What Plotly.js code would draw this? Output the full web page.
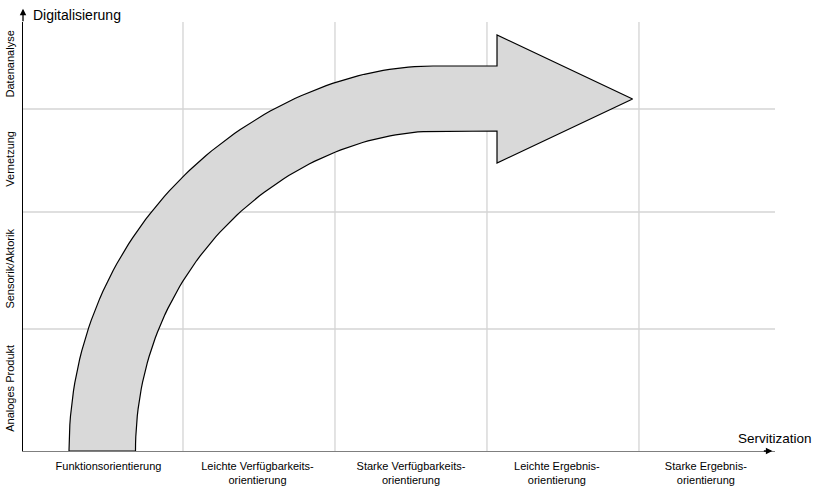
<!DOCTYPE html>
<html>
<head>
<meta charset="utf-8">
<script src="https://cdn.plot.ly/plotly-3.0.1.min.js"></script>
<style>
  html, body { margin: 0; padding: 0; background: #fff; }
  #chart { width: 822px; height: 488px; }
</style>
</head>
<body>
<div id="chart"></div>
<script>
// ---- Data ----
const columns = [
  "Funktionsorientierung",
  "Leichte Verfügbarkeits-<br>orientierung",
  "Starke Verfügbarkeits-<br>orientierung",
  "Leichte Ergebnis-<br>orientierung",
  "Starke Ergebnis-<br>orientierung"
];
const columnCenters = [0.51, 1.49, 2.5, 3.46, 4.44];
const columnBounds = [1, 2, 3, 4];

const levels = ["Analoges Produkt", "Sensorik/Aktorik", "Vernetzung", "Datenanalyse"];
const levelBounds = [0, 122, 239, 342, 429];

// Curved arrow geometry (cubic Bezier control points, in axis units)
const outerCurve = [[0.25, 0], [0.25, 236], [1.572, 385], [2.645, 385]];
const innerCurve = [[0.6875, 0], [0.6875, 191], [1.72, 320], [2.691, 320]];
const headBackX = 3.066;
const headTop = 416;
const headBottom = 288;
const headTip = [3.958, 352];

// ---- Build arrow outline ----
function bez(p, t) {
  const u = 1 - t;
  const a = u*u*u, b = 3*u*u*t, c = 3*u*t*t, d = t*t*t;
  return [a*p[0][0] + b*p[1][0] + c*p[2][0] + d*p[3][0],
          a*p[0][1] + b*p[1][1] + c*p[2][1] + d*p[3][1]];
}
const ax = [], ay = [];
const N = 80;
for (let i = 0; i <= N; i++) { const q = bez(outerCurve, i / N); ax.push(q[0]); ay.push(q[1]); }
ax.push(headBackX); ay.push(outerCurve[3][1]);
ax.push(headBackX); ay.push(headTop);
ax.push(headTip[0]); ay.push(headTip[1]);
ax.push(headBackX); ay.push(headBottom);
ax.push(headBackX); ay.push(innerCurve[3][1]);
for (let i = N; i >= 0; i--) { const q = bez(innerCurve, i / N); ax.push(q[0]); ay.push(q[1]); }
ax.push(ax[0]); ay.push(ay[0]);

const FONT = '"Liberation Sans", Arial, sans-serif';

const traces = [{
  type: 'scatter', mode: 'lines', x: ax, y: ay,
  fill: 'toself', fillcolor: '#d9d9d9',
  line: { color: '#000000', width: 1.2 },
  hoverinfo: 'skip', showlegend: false
}];

const xMin = -0.0526, xMax = 4.895;
const shapes = [];
columnBounds.forEach(v => shapes.push({
  type: 'line', xref: 'x', yref: 'y', x0: v, x1: v, y0: 0, y1: levelBounds[levelBounds.length - 1],
  line: { color: '#d4d4d4', width: 1.3 }, layer: 'below'
}));
levelBounds.slice(1, -1).forEach(v => shapes.push({
  type: 'line', xref: 'x', yref: 'y', x0: xMin, x1: xMax, y0: v, y1: v,
  line: { color: '#d4d4d4', width: 1.3 }, layer: 'below'
}));

const levelCenters = levels.map((_, i) => (levelBounds[i] + levelBounds[i + 1]) / 2);

const layout = {
  width: 822, height: 488,
  margin: { l: 23, r: 47, t: 22, b: 37 },
  paper_bgcolor: '#ffffff', plot_bgcolor: '#ffffff',
  showlegend: false,
  font: { family: FONT, size: 11, color: '#000000' },
  xaxis: {
    range: [xMin, xMax], showgrid: false, zeroline: false,
    showline: true, linecolor: '#7f7f7f', linewidth: 1.3,
    tickmode: 'array', tickvals: columnCenters, ticktext: columns,
    ticks: '', tickfont: { family: FONT, size: 11, color: '#000' },
    ticklabelstandoff: 4, fixedrange: true
  },
  yaxis: {
    range: [0, levelBounds[levelBounds.length - 1]], showgrid: false, zeroline: false,
    showline: true, linecolor: '#000000', linewidth: 1.3,
    tickmode: 'array', tickvals: levelCenters, ticktext: levels,
    tickangle: -90, ticks: '', tickfont: { family: FONT, size: 11, color: '#000' },
    ticklabelstandoff: 3, fixedrange: true
  },
  shapes: shapes,
  annotations: [
    { xref: 'paper', yref: 'paper', x: 0, y: 1.031, ax: 0, ay: 14, axref: 'pixel', ayref: 'pixel',
      showarrow: true, arrowhead: 2, arrowsize: 1, arrowwidth: 1.3, arrowcolor: '#000', text: '' },
    { xref: 'paper', yref: 'paper', x: 0.9965, y: 0, ax: -10, ay: 0, axref: 'pixel', ayref: 'pixel',
      showarrow: true, arrowhead: 2, arrowsize: 1, arrowwidth: 1.3, arrowcolor: '#000', text: '' },
    { xref: 'paper', yref: 'paper', x: 0, y: 1, xanchor: 'left', yanchor: 'middle',
      xshift: 8, yshift: 7, showarrow: false, text: 'Digitalisierung',
      font: { family: FONT, size: 14, color: '#000' } },
    { xref: 'paper', yref: 'paper', x: 1, y: 0, xanchor: 'right', yanchor: 'middle',
      xshift: 39, yshift: 13, showarrow: false, text: 'Servitization',
      font: { family: FONT, size: 13.5, color: '#000' } }
  ]
};

Plotly.newPlot('chart', traces, layout, { displayModeBar: false, staticPlot: true });
</script>
</body>
</html>
